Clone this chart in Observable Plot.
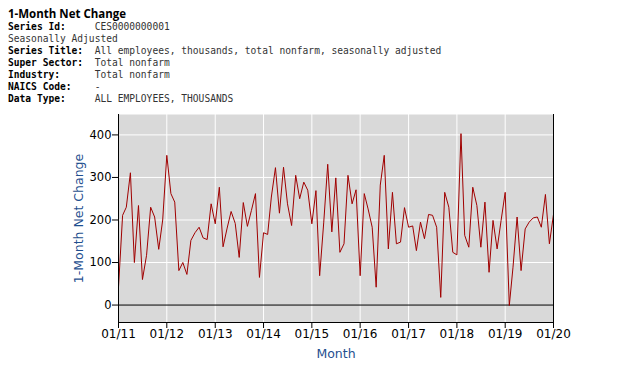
<!DOCTYPE html>
<html>
<head>
<meta charset="utf-8">
<script src="https://cdn.jsdelivr.net/npm/d3@7"></script>
<script src="https://cdn.jsdelivr.net/npm/@observablehq/plot@0.6"></script>
<style>
  html, body { margin: 0; padding: 0; background: #fff; }
  #wrap { position: relative; width: 638px; height: 388px; overflow: hidden; }
  #header { position: absolute; left: 8px; top: 0; width: 630px; height: 105px; }
  #title { position: absolute; left: 0; top: 6px; font: 700 11.5px "Open Sans", sans-serif; line-height: 16px; color: #000; white-space: pre; }
  #meta { position: absolute; left: 0; top: 21px; font: 9.6px "DejaVu Sans Mono", monospace; line-height: 12.05px; color: #333; white-space: pre; }
  #meta b { color: #000; }
  #chart { position: absolute; left: 0; top: 105px; }
</style>
</head>
<body>
<div id="wrap">
  <div id="header">
    <div id="title"></div>
    <div id="meta"></div>
  </div>
  <div id="chart"></div>
</div>
<script>
// ---- text ----
const titleText = "1-Month Net Change";
const metaLabels = ["Series Id:", "", "Series Title:", "Super Sector:", "Industry:", "NAICS Code:", "Data Type:"];
const metaValues = ["CES0000000001", "Seasonally Adjusted", "All employees, thousands, total nonfarm, seasonally adjusted", "Total nonfarm", "Total nonfarm", "-", "ALL EMPLOYEES, THOUSANDS"];
const yLabel = "1-Month Net Change";
const xLabel = "Month";

// ---- data: monthly net change (thousands), Jan..Dec ----
const v2011 = [42, 211, 230, 311, 100, 234, 60, 117, 230, 207, 131, 200];
const v2012 = [352, 262, 242, 81, 100, 72, 152, 170, 183, 158, 154, 238];
const v2013 = [191, 277, 137, 181, 220, 192, 112, 241, 185, 222, 262, 65];
const v2014 = [170, 166, 254, 323, 216, 324, 238, 187, 305, 250, 289, 270];
const v2015 = [191, 269, 69, 195, 331, 172, 299, 124, 144, 305, 238, 271];
const v2016 = [69, 262, 226, 183, 42, 282, 352, 132, 265, 144, 148, 229];
const v2017 = [183, 186, 128, 195, 156, 213, 211, 183, 18, 265, 230, 124];
const v2018 = [118, 403, 164, 136, 277, 234, 136, 242, 77, 199, 132, 199];
const v2019 = [265, -1, 89, 207, 81, 179, 195, 205, 207, 183, 260, 144];
const v2020 = [213];
const years = [2011, 2012, 2013, 2014, 2015, 2016, 2017, 2018, 2019, 2020];
const yearValues = [v2011, v2012, v2013, v2014, v2015, v2016, v2017, v2018, v2019, v2020];
const yTicks = [0, 100, 200, 300, 400];

// ---- header ----
document.getElementById("title").textContent = titleText;
const meta = document.getElementById("meta");
metaLabels.forEach((lab, i) => {
  const line = document.createElement("div");
  if (lab) {
    const b = document.createElement("b");
    b.textContent = lab.padEnd(15, " ");
    line.appendChild(b);
    line.appendChild(document.createTextNode(metaValues[i]));
  } else {
    line.textContent = metaValues[i];
  }
  meta.appendChild(line);
});

// ---- table ----
const data = [];
years.forEach((yr, i) => yearValues[i].forEach((v, m) => data.push({date: new Date(Date.UTC(yr, m, 1)), value: v})));
const yearTicks = years.map(y => new Date(Date.UTC(y, 0, 1)));
const x0 = yearTicks[0], x1 = yearTicks[yearTicks.length - 1];
const yDomain = [-41, 448];

const chart = Plot.plot({
  width: 638,
  height: 283,
  marginLeft: 118,
  marginRight: 85,
  marginTop: 9,
  marginBottom: 66,
  style: {fontFamily: "DejaVu Sans, sans-serif", fontSize: "12px", color: "#000", background: "transparent"},
  x: {type: "utc", domain: [x0, x1], label: null},
  y: {domain: yDomain, label: null},
  marks: [
    Plot.frame({fill: "#d9d9d9", stroke: null}),
    Plot.gridX(yearTicks.slice(1, -1), {stroke: "#fff", strokeOpacity: 1, strokeWidth: 1}),
    Plot.gridY(yTicks.slice(1), {stroke: "#fff", strokeOpacity: 1, strokeWidth: 1}),
    Plot.ruleY([0], {stroke: "#000", strokeWidth: 1}),
    Plot.line(data, {x: "date", y: "value", stroke: "#a00000", strokeWidth: 1}),
    Plot.ruleX([x0, x1], {stroke: "#000", strokeWidth: 1}),
    Plot.ruleY([yDomain[0]], {stroke: "#000", strokeWidth: 1}),
    Plot.axisX({ticks: yearTicks, tickFormat: d3.utcFormat("%m/%y"), tickSize: 6, tickPadding: 1, fontSize: 12, stroke: "#000", label: null}),
    Plot.axisY({ticks: yTicks, tickSize: 6, tickPadding: 1, fontSize: 11.5, stroke: "#000", label: null}),
    Plot.text([yLabel], {frameAnchor: "left", dx: -40, rotate: -90, textAnchor: "middle", fill: "#1f4f8f", fontSize: 12.5}),
    Plot.text([xLabel], {frameAnchor: "bottom", dy: 35, textAnchor: "middle", fill: "#1f4f8f", fontSize: 12.5})
  ]
});
document.getElementById("chart").appendChild(chart);
</script>
</body>
</html>
